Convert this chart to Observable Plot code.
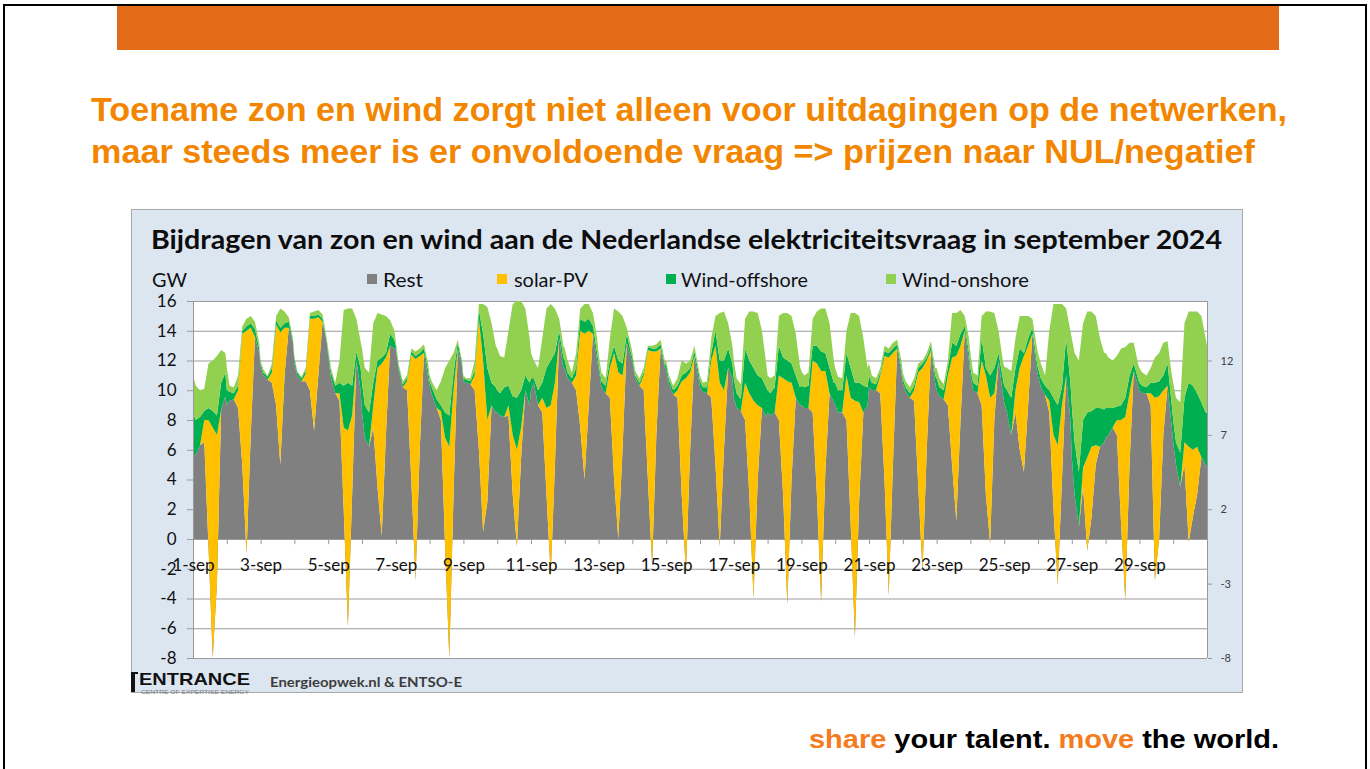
<!DOCTYPE html>
<html><head><meta charset="utf-8">
<script src="https://cdn.jsdelivr.net/npm/d3@7"></script>
<script src="https://cdn.jsdelivr.net/npm/@observablehq/plot@0.6"></script>
<style>
html,body{margin:0;padding:0;background:#fff;}
body{width:1370px;height:769px;position:relative;overflow:hidden;font-family:Lato,sans-serif;}
#frame{position:absolute;left:3px;top:4px;width:1364px;height:800px;border:2px solid #000;box-sizing:border-box;}
#bar{position:absolute;left:117px;top:6px;width:1162px;height:44px;background:#E46C19;}
#box{position:absolute;left:131px;top:209px;width:1112px;height:484px;background:#DCE6F1;border:1px solid #A9A9A9;box-sizing:border-box;}
#chart{position:absolute;left:131px;top:290px;}
#overlay{position:absolute;left:0;top:0;}
</style></head><body>
<div id="frame"></div><div id="bar"></div><div id="box"></div><div id="chart"></div>
<svg id="overlay" width="1370" height="769"></svg>
<script>
// hours of day at which values were read (each day), plus a final point at 1 Oct 00:00
const hoursOfDay = [0,2,5,8,11,14,17,20,23];
const xLabels = ["1-sep","3-sep","5-sep","7-sep","9-sep","11-sep","13-sep","15-sep","17-sep","19-sep","21-sep","23-sep","25-sep","27-sep","29-sep"];
const leftTicks = [-8,-6,-4,-2,0,2,4,6,8,10,12,14,16];
const rightTicks = [-8,-3,2,7,12];
const seriesNames = ["Rest","solar-PV","Wind-offshore","Wind-onshore"];
const seriesColors = ["#808080","#FFC000","#00B050","#92D050"];

const rest = [
5.6,5.7,6.3,6.5,-0.5,-8.0,-3.0,8.7,9.6,
9.0,9.3,9.4,8.8,5.0,-1.0,7.0,13.6,12.5,
11.6,11.0,10.7,10.5,9.0,5.0,11.0,14.2,13.2,
11.8,11.0,10.6,10.6,10.0,7.3,11.0,14.6,13.2,
12.3,10.8,9.8,9.3,2.0,-5.9,3.0,12.0,10.0,
8.5,6.8,6.2,7.5,3.5,0.2,7.0,13.0,12.8,
12.8,11.4,10.2,10.0,4.0,-2.8,6.0,12.5,10.8,
10.3,9.6,8.8,8.0,-0.5,-8.0,3.0,12.8,11.6,
10.6,10.5,10.4,10.0,6.0,0.5,2.5,9.0,8.5,
8.5,8.3,8.2,8.3,3.0,-0.5,5.5,10.0,9.0,
10.0,10.5,9.0,8.5,3.0,-2.5,5.0,13.5,11.5,
11.5,10.8,10.5,10.0,7.5,4.0,9.0,13.8,12.0,
11.5,10.2,9.8,9.5,4.0,0.0,6.0,13.2,12.2,
11.9,10.8,10.3,10.0,4.0,-1.8,7.0,12.8,11.5,
11.4,10.4,9.7,9.5,3.0,-2.3,6.0,12.3,10.8,
10.2,9.9,9.8,9.5,5.0,-0.5,6.0,11.5,10.8,
9.5,8.8,8.6,8.0,3.0,-4.0,4.0,8.8,8.2,
8.5,8.3,8.5,8.0,3.0,-4.4,4.0,9.5,9.0,
9.0,8.8,8.8,8.5,3.0,-4.2,4.5,9.8,9.2,
9.0,8.5,8.5,8.0,1.0,-6.6,2.5,8.5,9.0,
10.2,10.0,10.0,9.8,4.0,-3.8,5.0,12.8,11.2,
10.5,9.9,9.5,9.3,3.5,-2.2,6.0,12.7,10.5,
10.0,9.6,9.4,9.0,5.0,1.2,8.0,14.0,12.0,
11.0,10.0,9.8,9.0,3.0,-0.3,8.0,12.0,9.8,
9.2,8.5,7.0,8.5,6.0,4.5,9.0,13.8,11.5,
11.0,10.2,9.7,8.5,2.0,-3.1,4.0,11.0,8.0,
5.5,3.0,0.8,3.5,-0.8,1.5,5.0,6.2,6.5,
6.8,7.0,7.5,7.0,1.0,-4.1,5.0,11.3,10.3,
10.0,9.8,9.8,9.0,-2.8,0.0,7.0,10.3,7.5,
6.5,5.0,3.5,5.0,-0.2,1.5,3.0,5.5,5.0,
4.8];

const solar = [
0,0,0,1.5,8.5,15.5,10.0,0,0,
0,0,0,1.2,8.8,15.0,7.2,0,0,
0,0,0,0.7,5.4,8.9,3.2,0,0,
0,0,0,0.5,4.8,7.5,3.9,0,0,
0,0,0,0.5,5.5,13.2,5.3,0,0,
0,0,0,1.5,8.0,11.6,5.2,0,0,
0,0,0,0.6,8.4,14.9,6.3,0,0,
0,0,0,0.6,7.3,14.2,7.0,0,0,
0,0,0,1.0,8.8,11.5,5.5,0,0,
0,0,0,0.7,4.0,6.5,2.0,0,0,
0,0,0,1.0,5.8,11.5,5.5,0,0,
0,0,0,1.0,6.5,9.8,5.0,0,0,
0,0,0,2.0,8.5,11.2,5.0,0,0,
0,0,0,1.0,8.7,14.4,5.6,0,0,
0,0,0,0.5,7.6,13.1,5.2,0,0,
0,0,0,2.5,8.0,11.0,4.0,0,0,
0,0,0,2.5,6.8,13.3,5.0,0,0,
0,0,0,3.0,7.8,15.0,6.5,0,0,
0,0,0,3.5,8.8,15.5,6.8,0,0,
0,0,0,3.0,8.5,15.9,6.7,0,0,
0,0,0,1.2,8.3,16.0,7.5,0,0,
0,0,0,0.7,7.7,13.7,6.0,0,0,
0,0,0,2.0,7.2,11.1,5.0,0,0,
0,0,0,3.0,8.0,9.8,1.8,0,0,
0,0,0,1.5,5.5,7.8,4.0,0,0,
0,0,0,0.8,5.0,9.4,5.0,0,0,
0,0,0,1.3,6.3,4.7,1.3,0,0,
0,0,0,1.0,7.0,12.3,4.8,0,0,
0,0,0,0.8,12.3,9.6,3.0,0,0,
0,0,0,1.5,6.4,4.5,3.2,0,0,
0];

const windOffshore = [
2.8,2.3,1.9,0.6,0.8,1.1,1.3,1.8,1.6,
1.0,0.6,0.4,0.3,0.2,0.3,0.3,0.5,0.3,
0.2,0.2,0.2,0.3,0.3,0.3,0.3,0.4,0.1,
0.3,0.2,0.2,0.2,0.2,0.2,0.2,0.2,0.1,
0.3,0.4,0.5,0.7,2.8,3.2,2.0,0.6,1.5,
2.0,2.2,2.3,1.5,0.5,0.4,0.3,0.8,0.6,
0.2,0.2,0.2,0.2,0.2,0.2,0.2,0.3,0.5,
0.3,0.5,0.6,0.4,1.7,2.1,1.2,0.4,0.2,
0.2,0.2,0.2,0.3,0.6,1.8,3.5,1.5,1.7,
1.5,1.5,2.0,1.3,2.6,3.5,2.5,1.0,1.5,
0.8,0.3,1.0,1.0,2.7,3.0,2.0,0.5,0.7,
0.5,0.4,0.3,0.5,0.8,0.8,0.8,0.5,0.5,
0.3,0.4,0.5,0.5,0.5,0.8,0.8,0.6,0.3,
0.3,0.2,0.2,0.2,0.2,0.2,0.2,0.3,0.2,
0.3,0.3,0.3,0.3,0.4,0.4,0.3,0.3,0.4,
0.4,0.3,0.4,0.5,1.0,1.5,2.0,1.3,1.0,
1.3,1.0,0.8,2.3,2.2,2.2,2.0,2.0,2.0,
1.5,1.5,1.7,2.0,1.4,1.4,1.3,1.5,1.2,
1.3,1.4,1.5,1.0,1.2,1.3,1.2,1.7,1.3,
1.5,1.5,1.5,1.5,2.0,1.2,1.3,1.8,1.2,
0.8,0.5,0.4,0.2,0.3,0.3,0.3,0.3,0.3,
0.3,0.3,0.3,0.3,0.3,0.3,0.2,0.3,0.5,
0.8,0.6,0.6,0.5,1.0,0.7,0.8,0.3,0.5,
0.5,0.5,0.5,1.5,0.5,1.5,1.7,0.5,1.0,
1.1,1.5,2.5,1.5,1.3,0.2,0.5,0.4,0.5,
0.5,0.6,0.6,0.7,2.5,2.7,1.2,2.5,2.5,
3.5,3.5,3.7,3.2,3.0,2.4,2.5,2.6,2.2,
2.0,1.8,1.3,0.9,1.0,1.3,1.2,0.5,0.5,
0.5,0.5,0.4,0.7,1.0,1.0,1.0,1.5,1.5,
1.5,1.5,2.3,3.0,4.3,4.3,3.6,3.7,3.5,
3.7];

const windOnshore = [
2.6,2.3,1.8,1.5,3.0,3.4,4.0,2.2,1.3,
1.5,0.4,0.4,0.7,0.3,0.5,0.5,0.5,0.4,
0.2,0.2,0.1,0.3,0.3,1.3,0.8,0.3,0.2,
0.2,0.1,0.1,0.2,0.2,0.3,0.3,0.3,0.2,
0.2,0.3,0.2,1.5,5.1,5.0,5.2,2.2,1.8,
2.3,2.5,2.7,4.0,3.2,2.9,2.5,0.9,0.6,
0.3,0.2,0.2,0.2,0.2,0.3,0.3,0.3,0.5,
0.4,0.4,0.6,1.6,3.0,3.7,1.3,0.2,0.2,
0.2,0.1,0.2,0.7,0.4,2.0,4.1,4.0,2.8,
2.8,2.5,2.0,3.7,6.2,6.5,6.0,4.5,3.0,
1.7,1.2,1.5,3.0,4.0,3.8,3.0,0.8,0.8,
0.8,0.8,0.4,1.0,0.7,1.2,1.0,0.9,1.0,
0.7,0.6,0.5,1.5,2.5,3.3,3.2,0.4,0.5,
0.3,0.3,0.3,0.3,0.1,0.2,0.3,0.3,0.3,
0.3,0.3,0.3,0.5,1.0,0.6,0.5,0.4,0.3,
0.4,0.3,0.4,1.0,1.0,3.2,3.3,1.7,1.2,
1.2,1.0,1.0,2.0,3.3,3.8,4.2,3.2,1.6,
1.0,1.0,0.8,2.0,3.0,3.2,3.2,2.8,1.4,
1.0,0.8,0.9,1.8,2.3,2.9,3.0,3.0,1.5,
1.0,0.9,0.8,1.5,3.7,4.7,4.5,3.2,1.3,
0.8,0.5,0.4,0.3,0.4,0.3,0.4,0.3,0.5,
0.4,0.4,0.4,0.5,0.3,0.2,0.3,0.3,0.5,
0.7,0.6,0.4,0.5,2.0,2.2,1.6,0.7,1.0,
1.0,0.7,0.7,1.5,3.8,4.3,3.7,1.5,1.2,
1.3,1.5,1.8,2.0,2.2,2.5,1.5,0.6,1.0,
1.0,1.0,0.7,4.0,6.3,6.8,5.6,2.0,3.5,
4.5,6.0,7.5,6.5,6.8,6.7,6.2,4.7,3.8,
3.7,3.4,3.2,3.4,3.8,3.4,2.2,1.4,1.0,
1.0,0.9,0.8,1.0,1.7,1.9,2.2,1.5,2.0,
2.5,3.0,3.4,5.0,4.8,5.0,5.5,5.8,5.0,
4.5];

// time in hours since 1 Sep 00:00
const data = rest.map((r, i) => {
  const t = i < 30 * hoursOfDay.length ? Math.floor(i / hoursOfDay.length) * 24 + hoursOfDay[i % hoursOfDay.length] : 720;
  const c1 = r + solar[i], c2 = c1 + windOffshore[i], c3 = c2 + windOnshore[i];
  return {t, r, c1, c2, c3};
});
const dayStarts = d3.range(1, 31).map(d => d * 24);
const labelPos = xLabels.map((_, i) => i * 48);

const gridColor = "#9a9a9a";
const chart = Plot.plot({
  width: 1112, height: 400,
  marginLeft: 62, marginRight: 36, marginTop: 11, marginBottom: 32,
  x: {domain: [0, 720], axis: null},
  y: {domain: [-8, 16]},
  style: {background: "transparent", fontFamily: "Lato, sans-serif", overflow: "visible"},
  marks: [
    Plot.frame({fill: "white", stroke: "none"}),
    Plot.ruleY(leftTicks, {stroke: gridColor, strokeWidth: 1}),
    Plot.areaY(data, {x: "t", y1: 0, y2: "r", fill: seriesColors[0]}),
    Plot.areaY(data, {x: "t", y1: "r", y2: "c1", fill: seriesColors[1]}),
    Plot.areaY(data, {x: "t", y1: "c1", y2: "c2", fill: seriesColors[2]}),
    Plot.areaY(data, {x: "t", y1: "c2", y2: "c3", fill: seriesColors[3]}),
    Plot.ruleX([0, 720], {stroke: gridColor}),
    Plot.ruleX(dayStarts, {y1: 0, y2: -0.35, stroke: gridColor}),
    Plot.axisY(leftTicks, {anchor: "left", tickSize: 6, tickPadding: 11, fontSize: 17, fill: "#111", stroke: gridColor, tickFormat: d => String(d)}),
    Plot.axisY(rightTicks, {anchor: "right", tickSize: 4, tickPadding: 9, fontSize: 11, fill: "#404040", stroke: gridColor, tickFormat: d => String(d)}),
    Plot.text(xLabels, {x: (d, i) => labelPos[i], y: 0, dy: 26, text: d => d, fontSize: 17, fill: "#111", fontFamily: "Lato, sans-serif"})
  ]
});
document.getElementById("chart").appendChild(chart);

// Slide texts
const svg = d3.select("#overlay");
function txt(x, y, s, a) {
  const t = svg.append("text").attr("x", x).attr("y", y).text(s);
  for (const k in a) t.attr(k, a[k]);
  return t;
}
const titleFont = "'Liberation Sans', Arial, sans-serif";
txt(91, 121, "Toename zon en wind zorgt niet alleen voor uitdagingen op de netwerken,",
  {"font-family": titleFont, "font-weight": 700, "font-size": 34, fill: "#F28600", textLength: 1196, lengthAdjust: "spacingAndGlyphs"});
txt(91, 163, "maar steeds meer is er onvoldoende vraag => prijzen naar NUL/negatief",
  {"font-family": titleFont, "font-weight": 700, "font-size": 34, fill: "#F28600", textLength: 1164, lengthAdjust: "spacingAndGlyphs"});

txt(151, 249, "Bijdragen van zon en wind aan de Nederlandse elektriciteitsvraag in september 2024",
  {"font-family": "Lato, sans-serif", "font-weight": 700, "font-size": 26, fill: "#0d0d0d", textLength: 1071, lengthAdjust: "spacingAndGlyphs"});
txt(152, 287, "GW", {"font-family": "Lato, sans-serif", "font-size": 19, fill: "#111", textLength: 35, lengthAdjust: "spacingAndGlyphs"});

const legendRectX = [367, 497, 666, 886];
const legendTextX = [383, 514, 681, 902];
const legendTextW = [40, 74, 127, 127];
seriesNames.forEach((n, i) => {
  svg.append("rect").attr("x", legendRectX[i]).attr("y", 274).attr("width", 10).attr("height", 10).attr("fill", seriesColors[i]);
  txt(legendTextX[i], 287, n, {"font-family": "Lato, sans-serif", "font-size": 19, fill: "#111", textLength: legendTextW[i], lengthAdjust: "spacingAndGlyphs"});
});

// footer of chart box
svg.append("rect").attr("x", 131).attr("y", 672).attr("width", 4).attr("height", 20).attr("fill", "#111");
svg.append("rect").attr("x", 131).attr("y", 672).attr("width", 7).attr("height", 2).attr("fill", "#111");
txt(139, 685, "ENTRANCE", {"font-family": titleFont, "font-weight": 900, "font-size": 17, fill: "#111", textLength: 111, lengthAdjust: "spacingAndGlyphs"});
txt(141, 694, "CENTRE OF EXPERTISE ENERGY", {"font-family": titleFont, "font-size": 4.5, fill: "#777", textLength: 108, lengthAdjust: "spacingAndGlyphs"});
txt(270, 687, "Energieopwek.nl & ENTSO-E", {"font-family": "Lato, sans-serif", "font-weight": 700, "font-size": 14, fill: "#3c3c3c", textLength: 192, lengthAdjust: "spacingAndGlyphs"});

// slogan
const sl = svg.append("text").attr("x", 809).attr("y", 748)
  .attr("font-family", titleFont).attr("font-weight", 700).attr("font-size", 26)
  .attr("textLength", 470).attr("lengthAdjust", "spacingAndGlyphs");
sl.append("tspan").attr("fill", "#F47B20").text("share");
sl.append("tspan").attr("fill", "#000").text(" your talent. ");
sl.append("tspan").attr("fill", "#F47B20").text("move");
sl.append("tspan").attr("fill", "#000").text(" the world.");
</script>
</body></html>
